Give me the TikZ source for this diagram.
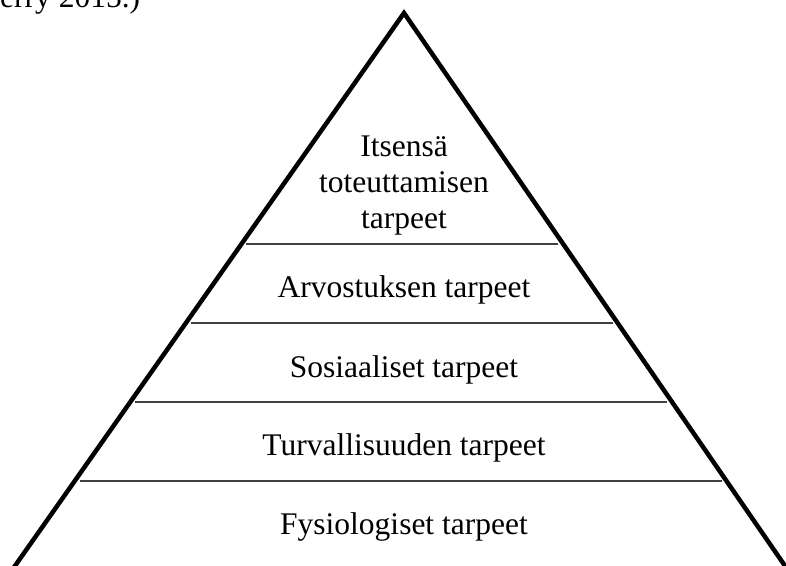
\documentclass[tikz,border=0pt]{standalone}
\usepackage{fontspec}
\setmainfont{Liberation Serif}
\usetikzlibrary{calc}
\tikzset{
    side/.style={draw=black, line width=4.5pt, line join=miter},
    layer/.style={draw=black!75, line width=1.4pt},
    need/.style={font=\fontsize{31.5}{36}\selectfont, align=center, inner sep=0pt},
}
\begin{document}
\begin{tikzpicture}[x=1pt, y=-1pt]
	\useasboundingbox (0,0) rectangle (786,565);
	\coordinate (apex) at (404,13);
	\coordinate (bl) at (17,563);
	\coordinate (br) at (783,563);
	\draw[side] ($(apex)!1.1!(bl)$) -- (apex) -- ($(apex)!1.1!(br)$);
	\foreach \y/\i in {244/1,323/2,402/3,481/4}{
		\coordinate (l\i) at ($(apex)!{(\y-13)/550}!(bl)$);
		\coordinate (r\i) at ($(apex)!{(\y-13)/550}!(br)$);
		\draw[layer] ([xshift=5pt]l\i) -- ([xshift=-5pt]r\i);
	}
	\node[need] (self) at (404,186) {Itsensä\\toteuttamisen\\tarpeet};
	\node[need] (esteem) at (404,290) {Arvostuksen tarpeet};
	\node[need] (social) at (404,370) {Sosiaaliset tarpeet};
	\node[need] (safety) at (404,448) {Turvallisuuden tarpeet};
	\node[need] (body) at (404,527) {Fysiologiset tarpeet};
	\node[need, anchor=base west] (source) at (0,7) {erry 2015.)};
\end{tikzpicture}
\end{document}
